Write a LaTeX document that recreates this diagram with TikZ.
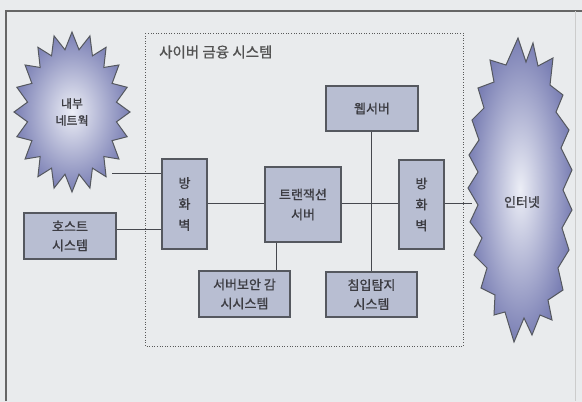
\documentclass[tikz,border=0pt]{standalone}
\usepackage{fontspec}
\newfontfamily\kr[FakeBold=0.9]{Noto Sans CJK KR}
\usetikzlibrary{shadows}
\definecolor{bgc}{RGB}{233,235,237}
\definecolor{boxfill}{RGB}{184,190,210}
\definecolor{boxline}{RGB}{85,88,95}
\definecolor{txt}{RGB}{60,60,66}
\definecolor{starout}{RGB}{122,127,180}
\definecolor{starin}{RGB}{236,238,246}
\definecolor{wire}{RGB}{70,72,78}
\tikzset{
  sysbox/.style={draw=boxline, line width=1.1pt, fill=boxfill, inner sep=0pt,
    font=\kr\fontsize{13}{20}\selectfont, text=txt, align=center,
    drop shadow={shadow xshift=0.8pt, shadow yshift=-0.8pt, opacity=0.35}},
  wireline/.style={draw=wire, line width=0.8pt},
  lbl/.style={font=\kr\fontsize{13}{20}\selectfont, text=txt, align=center, inner sep=0pt}
}
\begin{document}
\begin{tikzpicture}[x=1pt,y=-1pt]
\useasboundingbox (0,0) rectangle (582,402);
\fill[bgc] (0,0) rectangle (582,402);
% outer frame
\draw[gray!80!black, line width=1.2pt] (6,401) -- (6,11) -- (582,11);
\draw[gray!40, line width=0.6pt] (575,11) -- (575,401);
% dotted system boundary
\draw[gray!70!black, line width=0.6pt, dotted] (145,33) rectangle (463,346);
\node[anchor=west, font=\kr\fontsize{14.5}{16}\selectfont, text=black!68, inner sep=0pt] (title) at (159,52) {사이버 금융 시스템};

% internal network starburst
\shade[inner color=starin, outer color=starout, draw=boxline, line width=1pt]
  (72+58,112) \foreach \i in {1,...,39} { -- ({72+cos(9*\i)*(isodd(\i) ? 45 : 58)}, {112+sin(9*\i)*(isodd(\i) ? 63 : 80)}) } -- cycle;
\node[lbl, font=\kr\fontsize{12}{17}\selectfont] (inner) at (72,112) {내부\\네트웍};
\coordinate (innerE) at (112,173);

% internet
\shade[inner color=starin, outer color=starout, draw=boxline, line width=1pt]
  (518,38) -- (526,62) -- (533,43) -- (538,66) -- (553,58) -- (550,85) -- (563,95) -- (556,112)
  -- (569,130) -- (561,148) -- (572,170) -- (563,190) -- (572,210) -- (562,228) -- (569,250)
  -- (558,268) -- (563,290) -- (548,300) -- (552,320) -- (540,315) -- (532,335) -- (524,318)
  -- (514,342) -- (505,312) -- (494,315) -- (495,295) -- (481,288) -- (487,268) -- (474,255)
  -- (482,238) -- (470,222) -- (478,205) -- (468,188) -- (478,172) -- (469,155) -- (479,140)
  -- (472,120) -- (484,108) -- (478,88) -- (494,82) -- (490,60) -- (506,65) -- cycle;
\node[lbl] (internet) at (522,202) {인터넷};
\coordinate (internetW) at (472,203);

% boxes
\node[sysbox, minimum width=45pt, minimum height=90pt, font=\kr\fontsize{13}{21}\selectfont] (fw1) at (184.5,204) {방\\화\\벽};
\node[sysbox, minimum width=45pt, minimum height=89pt, font=\kr\fontsize{13}{21}\selectfont] (fw2) at (421.5,204.5) {방\\화\\벽};
\node[sysbox, minimum width=92pt, minimum height=46pt, font=\kr\fontsize{13}{19}\selectfont] (host) at (70,236) {호스트\\시스템};
\node[sysbox, minimum width=76pt, minimum height=75pt] (tx) at (303,204.5) {트랜잭션\\서버};
\node[sysbox, minimum width=92pt, minimum height=45pt] (web) at (372,108.5) {웹서버};
\node[sysbox, minimum width=91pt, minimum height=46pt, font=\kr\fontsize{13}{19}\selectfont] (sec) at (244.5,294) {서버보안 감\\시시스템};
\node[sysbox, minimum width=91pt, minimum height=45pt, font=\kr\fontsize{13}{19}\selectfont] (ids) at (371.5,294.5) {침입탐지\\시스템};

% connectors
\draw[wireline] (innerE) -- (innerE -| fw1.west);
\draw[wireline] (host.east |- 0,229) -- (fw1.west |- 0,229);
\draw[wireline] (fw1.east |- 0,203) -- (tx.west |- 0,203);
\draw[wireline] (tx.east |- 0,203) -- (fw2.west |- 0,203);
\draw[wireline] (fw2.east |- 0,203) -- (internetW);
\draw[wireline] (web.south -| 371,0) -- (ids.north -| 371,0);
\draw[wireline] (tx.south -| 276,0) -- (sec.north -| 276,0);
\end{tikzpicture}
\end{document}
